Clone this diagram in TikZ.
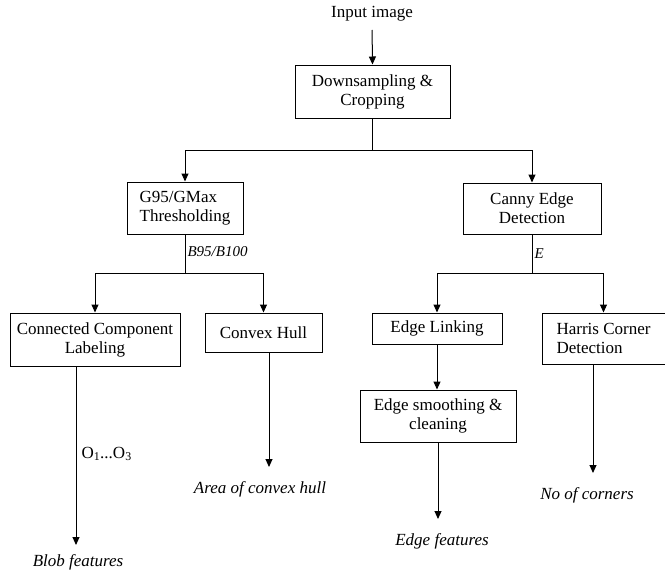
\documentclass[tikz,border=0pt]{standalone}
\usepackage{fontspec}
\setmainfont{Liberation Serif}
\usetikzlibrary{arrows.meta}

\begin{document}
\begin{tikzpicture}[
        x=1pt, y=-1pt,
        font=\fontsize{17}{19}\selectfont,
        box/.style={rectangle, draw, line width=1pt, inner sep=0pt, align=center},
        wire/.style={line width=1pt},
        arrow/.style={->, >={Triangle[length=8pt,width=7pt]}, line width=1pt},
        result/.style={font=\fontsize{17}{19}\selectfont\itshape},
        tag/.style={font=\fontsize{15}{17}\selectfont\itshape, inner sep=2pt}
    ]
    \useasboundingbox (0,0) rectangle (665,571);

    % Input and preprocessing
    \node (input) at (372,14) {Input image};
    \node[box, minimum width=155, minimum height=53] (downsample) at (372.5,91.5) {Downsampling \&\\Cropping};

    % Second level
    \node[box, align=left, minimum width=116, minimum height=52] (threshold) at (185,208) {G95/GMax\\Thresholding};
    \node[box, minimum width=138, minimum height=51] (canny) at (532,208.5) {Canny Edge\\Detection};

    % Third level
    \node[box, minimum width=170, minimum height=53] (ccl) at (95,339.5) {Connected Component\\Labeling};
    \node[box, minimum width=117, minimum height=39] (hull) at (263.5,332.5) {Convex Hull};
    \node[box, minimum width=130, minimum height=31] (linking) at (437,328.5) {Edge Linking};
    \node[box, minimum width=156, minimum height=52] (smoothing) at (438,416) {Edge smoothing \&\\cleaning};
    \node[box, align=left, minimum width=123, minimum height=51] (harris) at (603.5,338.5) {Harris Corner\\Detection};

    % Outputs
    \node[result] (blob) at (78,562) {Blob features};
    \node[result] (area) at (260,489) {Area of convex hull};
    \node[result] (edgefeat) at (442,541) {Edge features};
    \node[result] (corners) at (587,495) {No of corners};

    % Branch points and arrow ends
    \coordinate (split-top) at (372.5,150);
    \coordinate (split-left) at (185,273);
    \coordinate (split-right) at (532,273);
    \coordinate (blob-end) at (76,545);
    \coordinate (area-end) at (269,467);
    \coordinate (edge-end) at (438,519);
    \coordinate (corner-end) at (593,473);

    % Connectors
    \draw[arrow, shorten <=5pt] (input.south) -- (downsample.north);
    \draw[wire] (downsample.south) -- (split-top);
    \draw[arrow] (split-top) -| (threshold.north);
    \draw[arrow] (split-top) -| (canny.north);

    \draw[wire] (threshold.south) -- node[tag, right, pos=0.45] {B95/B100} (split-left);
    \draw[arrow] (split-left) -| (ccl.north);
    \draw[arrow] (split-left) -| (hull.north);

    \draw[wire] (canny.south) -- node[tag, right, pos=0.5] {E} (split-right);
    \draw[arrow] (split-right) -| (linking.north);
    \draw[arrow] (split-right) -| (harris.north);
    \draw[arrow] (linking.south) -- (linking.south |- smoothing.north);

    \draw[arrow] (ccl.south -| blob-end) -- node[right, pos=0.49, inner sep=5pt] {O\textsubscript{1}...O\textsubscript{3}} (blob-end);
    \draw[arrow] (hull.south -| area-end) -- (area-end);
    \draw[arrow] (smoothing.south) -- (edge-end);
    \draw[arrow] (harris.south -| corner-end) -- (corner-end);
\end{tikzpicture}
\end{document}
